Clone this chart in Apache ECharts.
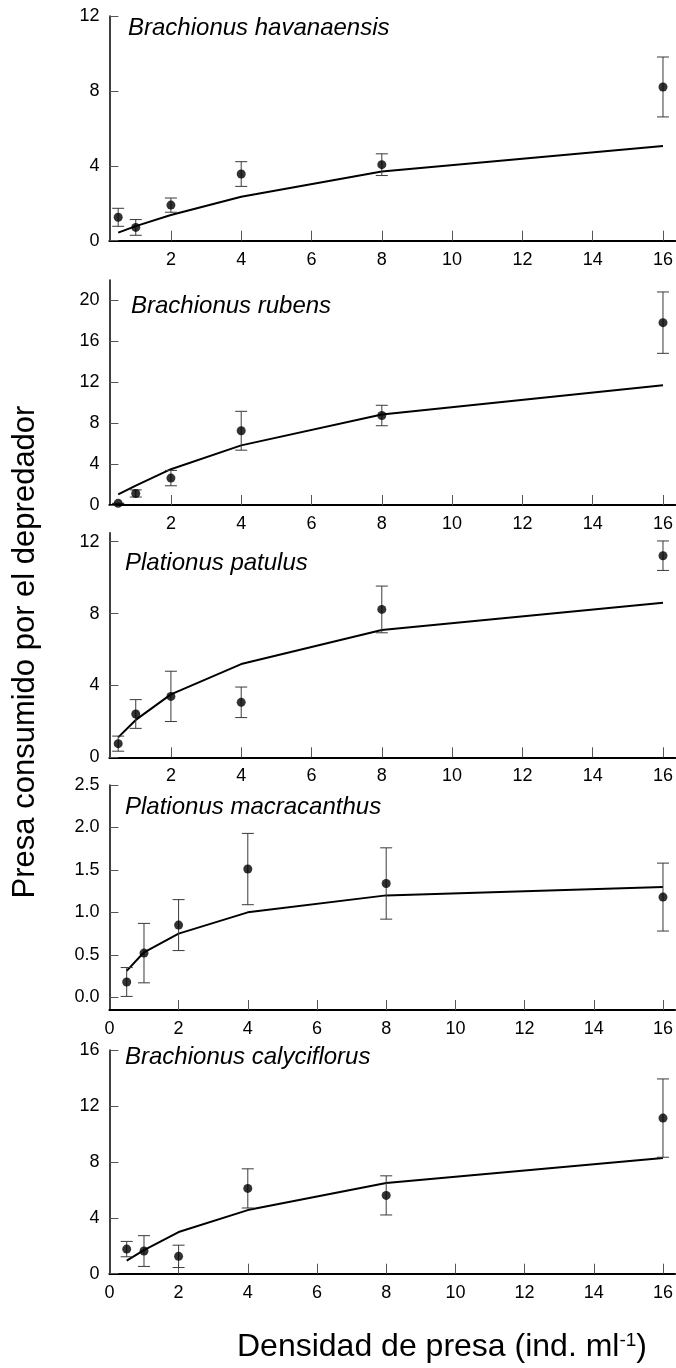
<!DOCTYPE html>
<html>
<head>
<meta charset="utf-8">
<script src="https://cdn.jsdelivr.net/npm/echarts@6/dist/echarts.min.js"></script>
<style>
html,body{margin:0;padding:0;background:#fff;}
#chart{width:676px;height:1368px;}
</style>
</head>
<body>
<div id="chart"></div>
<script>
// ---- data ----
const density = [0.5, 1, 2, 4, 8, 16];
const speciesNames = ['Brachionus havanaensis', 'Brachionus rubens', 'Plationus patulus', 'Plationus macracanthus', 'Brachionus calyciflorus'];

const havMean = [1.25, 0.71, 1.90, 3.56, 4.06, 8.21];
const havErr  = [0.48, 0.42, 0.38, 0.66, 0.58, 1.60];
const havFit  = [0.43, 0.78, 1.37, 2.35, 3.69, 5.06];

const rubMean = [0.16, 1.13, 2.63, 7.26, 8.75, 17.83];
const rubErr  = [0.00, 0.35, 0.75, 1.90, 1.00, 3.00];
const rubFit  = [1.04, 1.90, 3.50, 5.83, 8.85, 11.70];

const patMean = [0.76, 2.41, 3.39, 3.06, 8.23, 11.22];
const patErr  = [0.42, 0.80, 1.40, 0.85, 1.30, 0.82];
const patFit  = [1.11, 2.08, 3.50, 5.19, 7.08, 8.60];

const macMean = [0.18, 0.52, 0.85, 1.51, 1.34, 1.18];
const macErr  = [0.17, 0.35, 0.30, 0.42, 0.42, 0.40];
const macFit  = [0.31, 0.53, 0.75, 1.00, 1.20, 1.30];

const calMean = [1.76, 1.62, 1.24, 6.10, 5.60, 11.13];
const calErr  = [0.55, 1.10, 0.80, 1.40, 1.40, 2.80];
const calFit  = [0.93, 1.69, 2.98, 4.55, 6.49, 8.27];

const yTicks = [
  [0, 4, 8, 12],
  [0, 4, 8, 12, 16, 20],
  [0, 4, 8, 12],
  [0, 0.5, 1.0, 1.5, 2.0, 2.5],
  [0, 4, 8, 12, 16]
];
const xTicksA = [2, 4, 6, 8, 10, 12, 14, 16];
const xTicksB = [0, 2, 4, 6, 8, 10, 12, 14, 16];

const panels = [
  {mean: havMean, err: havErr, fit: havFit},
  {mean: rubMean, err: rubErr, fit: rubFit},
  {mean: patMean, err: patErr, fit: patFit},
  {mean: macMean, err: macErr, fit: macFit},
  {mean: calMean, err: calErr, fit: calFit}
];

// ---- layout ----
const FONT = '"Liberation Sans", Arial, Helvetica, sans-serif';
const gridBox = [
  {top: 16, height: 224.7},
  {top: 280, height: 225},
  {top: 532.7, height: 224.6},
  {top: 785, height: 225},
  {top: 1050, height: 223.7}
];
const yRange = [
  {min: 0, max: 12},
  {min: 0, max: 22},
  {min: 0, max: 12.5},
  {min: -0.15, max: 2.5},
  {min: 0, max: 16}
];
const xMin = [0.25, 0.25, 0.25, 0, 0];
const titlePos = [
  {left: 128, top: 16},
  {left: 131, top: 294},
  {left: 125, top: 551},
  {left: 125, top: 795},
  {left: 125, top: 1045}
];

const grids = [], xAxes = [], yAxes = [], series = [], titles = [];

function errRender(params, api) {
  const x = api.value(0), lo = api.value(1), hi = api.value(2);
  const a = api.coord([x, hi]), b = api.coord([x, lo]);
  const w = 6;
  const st = {stroke: '#3a3a3a', lineWidth: 1};
  return {type: 'group', children: [
    {type: 'line', shape: {x1: a[0], y1: a[1], x2: b[0], y2: b[1]}, style: st},
    {type: 'line', shape: {x1: a[0] - w, y1: a[1], x2: a[0] + w, y2: a[1]}, style: st},
    {type: 'line', shape: {x1: b[0] - w, y1: b[1], x2: b[0] + w, y2: b[1]}, style: st}
  ]};
}

panels.forEach((p, i) => {
  grids.push({left: 109.4, right: 0, top: gridBox[i].top, height: gridBox[i].height, containLabel: false});
  const xt = i < 3 ? xTicksA : xTicksB;
  xAxes.push({
    type: 'value', gridIndex: i, min: xMin[i], max: 16.35,
    axisLine: {show: true, onZero: false, lineStyle: {color: '#000', width: 2}},
    axisTick: {show: true, inside: true, length: 10, customValues: xTicksA, lineStyle: {color: '#555', width: 1}},
    axisLabel: {show: true, customValues: xt, color: '#000', fontSize: 18, fontFamily: FONT, margin: 10},
    splitLine: {show: false}
  });
  yAxes.push({
    type: 'value', gridIndex: i, min: yRange[i].min, max: yRange[i].max,
    axisLine: {show: true, onZero: false, lineStyle: {color: '#000', width: 1.5}},
    axisTick: {show: true, inside: true, length: 9, customValues: yTicks[i], lineStyle: {color: '#555', width: 1}},
    axisLabel: {show: true, customValues: yTicks[i], color: '#000', fontSize: 18, fontFamily: FONT, margin: 10,
      formatter: v => (i === 3 ? Number(v).toFixed(1) : String(v))},
    splitLine: {show: false}
  });
  series.push({
    type: 'line', xAxisIndex: i, yAxisIndex: i, data: density.map((x, k) => [x, p.fit[k]]),
    showSymbol: false, symbol: 'none', smooth: false,
    lineStyle: {color: '#000', width: 2}, z: 2, silent: true
  });
  series.push({
    type: 'custom', xAxisIndex: i, yAxisIndex: i, renderItem: errRender,
    data: density.map((x, k) => [x, p.mean[k] - p.err[k], p.mean[k] + p.err[k]]),
    z: 3, silent: true
  });
  series.push({
    type: 'scatter', xAxisIndex: i, yAxisIndex: i, data: density.map((x, k) => [x, p.mean[k]]),
    symbol: 'circle', symbolSize: 9, itemStyle: {color: '#000'}, z: 4, silent: true
  });
  titles.push({
    text: speciesNames[i], left: titlePos[i].left, top: titlePos[i].top, padding: 0,
    textStyle: {fontFamily: FONT, fontStyle: 'italic', fontWeight: 'normal', fontSize: 24, color: '#000'}
  });
});

titles.push({
  text: 'Densidad de presa (ind. ml{sup|-1})', left: 237, top: 1331, padding: 0,
  textStyle: {fontFamily: FONT, fontWeight: 'normal', fontSize: 32, color: '#000',
    rich: {sup: {fontFamily: FONT, fontSize: 19, verticalAlign: 'top', lineHeight: 16, padding: [0, 0, 16, 0], color: '#000'}}}
});

const chart = echarts.init(document.getElementById('chart'), null, {renderer: 'canvas'});
chart.setOption({
  animation: false,
  backgroundColor: '#fff',
  title: titles,
  grid: grids,
  xAxis: xAxes,
  yAxis: yAxes,
  series: series,
  graphic: [{
    type: 'text', x: 25, y: 652, rotation: Math.PI / 2,
    style: {text: 'Presa consumido por el depredador', font: 'normal 31px ' + FONT, fill: '#000',
      textAlign: 'center', textVerticalAlign: 'middle'}
  }]
});
</script>
</body>
</html>
